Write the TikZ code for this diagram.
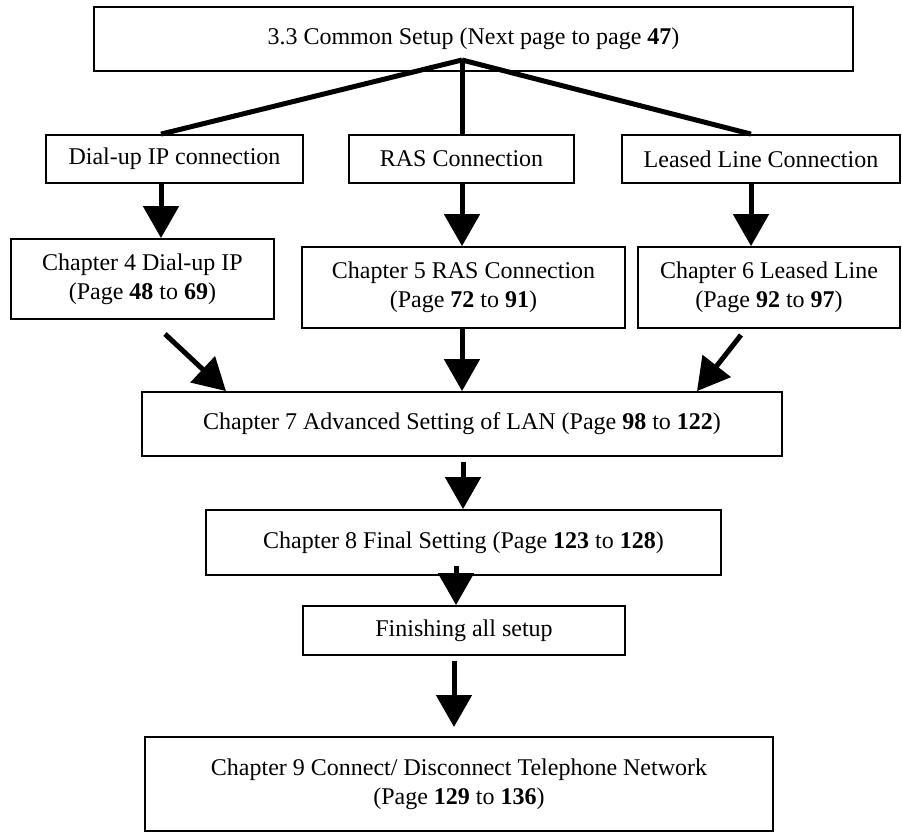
\documentclass[tikz,border=0pt]{standalone}
\usepackage{fontspec}
\setmainfont{Liberation Serif}
\usetikzlibrary{arrows.meta,calc}
\begin{document}
\begin{tikzpicture}[x=1pt,y=-1pt,
  box/.style={draw, line width=1.8pt, inner sep=0pt, align=center, anchor=center,
    font=\fontsize{24}{29}\selectfont},
  branch/.style={line width=5pt},
  arr/.style={line width=5pt, -{Triangle[width=35pt,length=32pt]}}]
\useasboundingbox (0,0) rectangle (902,832);
\node[box, minimum width=759pt, minimum height=64pt] (top) at (473.5,39) {3.3 Common Setup (Next page to page \textbf{47})};
\node[box, minimum width=257pt, minimum height=48pt] (dial) at (174.5,159) {Dial-up IP connection};
\node[box, minimum width=225pt, minimum height=48pt] (ras) at (461.5,159) {RAS Connection};
\node[box, minimum width=278pt, minimum height=48pt] (leased) at (761,159) {Leased Line Connection};
\node[box, minimum width=263pt, minimum height=80pt] (ch4) at (142.5,279) {Chapter 4 Dial-up IP\\(Page \textbf{48} to \textbf{69})};
\node[box, minimum width=323pt, minimum height=81pt] (ch5) at (463.5,287.5) {Chapter 5 RAS Connection\\(Page \textbf{72} to \textbf{91})};
\node[box, minimum width=262pt, minimum height=81pt] (ch6) at (769,287.5) {Chapter 6 Leased Line\\(Page \textbf{92} to \textbf{97})};
\node[box, minimum width=640pt, minimum height=64pt] (ch7) at (462,424) {Chapter 7 Advanced Setting of LAN (Page \textbf{98} to \textbf{122})};
\node[box, minimum width=515pt, minimum height=65pt] (ch8) at (463.5,542.5) {Chapter 8 Final Setting (Page \textbf{123} to \textbf{128})};
\node[box, minimum width=322pt, minimum height=49pt] (fin) at (464,630.5) {Finishing all setup};
\node[box, minimum width=628pt, minimum height=94pt] (ch9) at (459,784) {Chapter 9 Connect/ Disconnect Telephone Network\\(Page \textbf{129} to \textbf{136})};
% branch lines
\coordinate (apex) at (462,60);
\draw[branch] (apex) -- (161,0 |- dial.north);
\draw[branch] (apex) -- (462,0 |- ras.north);
\draw[branch] (apex) -- (751,0 |- leased.north);
% arrows
\draw[arr] (161,0 |- dial.south) -- (161,0 |- ch4.north);
\draw[arr] (462,0 |- ras.south) -- (462,0 |- ch5.north);
\draw[arr] (751,0 |- leased.south) -- (751,0 |- ch6.north);
\coordinate (a4) at (165,334);
\coordinate (a6) at (741,335);
\draw[arr] (a4) -- (226,0 |- ch7.north);
\draw[arr] (462,0 |- ch5.south) -- (462,0 |- ch7.north);
\draw[arr] (a6) -- (697,0 |- ch7.north);
\coordinate (a7) at (463,462);
\draw[arr] (a7) -- (463,0 |- ch8.north);
\coordinate (a8) at (456,566);
\draw[arr] (a8) -- (456,0 |- fin.north);
\coordinate (af) at (454,661);
\coordinate (t9) at (454,727);
\draw[arr] (af) -- (t9);
\end{tikzpicture}
\end{document}
